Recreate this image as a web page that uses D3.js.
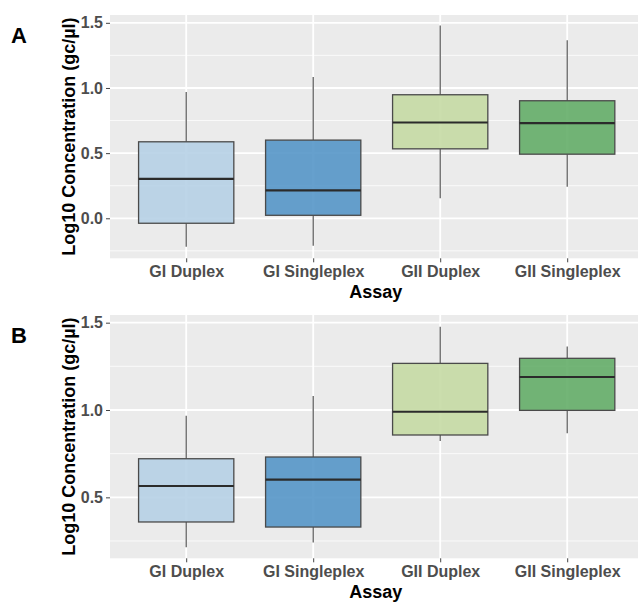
<!DOCTYPE html>
<html>
<head>
<meta charset="utf-8">
<script src="https://cdn.jsdelivr.net/npm/d3@7"></script>
<style>
  body { margin: 0; background: #fff; }
  svg { display: block; font-family: "Liberation Sans", Arial, sans-serif; }
</style>
</head>
<body>
<svg id="chart" width="638" height="602"></svg>
<script>
(function () {
    'use strict';

    // categories and fills
    var assays = ['GI Duplex', 'GI Singleplex', 'GII Duplex', 'GII Singleplex'];
    var fills = ['#b6d0e6', '#5596c8', '#c5daa4', '#64ad68'];

    // panel A box stats (log10 gc/ul)
    var lowA = [-0.218, -0.211, 0.154, 0.243];
    var q1A = [-0.038, 0.023, 0.533, 0.492];
    var medA = [0.302, 0.215, 0.735, 0.731];
    var q3A = [0.587, 0.600, 0.948, 0.902];
    var highA = [0.969, 1.085, 1.479, 1.366];
    var ticksA = [0, 0.5, 1.0, 1.5];
    var minorA = [-0.25, 0.25, 0.75, 1.25];

    // panel B box stats
    var lowB = [0.214, 0.242, 0.822, 0.867];
    var q1B = [0.359, 0.330, 0.857, 0.998];
    var medB = [0.565, 0.601, 0.990, 1.189];
    var q3B = [0.721, 0.731, 1.267, 1.296];
    var highB = [0.967, 1.080, 1.477, 1.363];
    var ticksB = [0.5, 1.0, 1.5];
    var minorB = [0.25, 0.75, 1.25];

    var svg = d3.select('#chart');

    var plot = { left: 110, top: 15, height: 243.3, width: 533.4 };

    function rows(low, q1, med, q3, high) {
        return assays.map(function (a, i) {
            return { name: a, low: low[i], q1: q1[i], med: med[i], q3: q3[i], high: high[i], fill: fills[i] };
        });
    }

    function drawPanel(offsetY, letter, data, domain, ticks, minor) {
        var g = svg.append('g').attr('transform', 'translate(0,' + offsetY + ')');

        var x = d3.scalePoint()
            .domain(assays)
            .range([plot.left, plot.left + plot.width])
            .padding(0.6);
        var y = d3.scaleLinear()
            .domain(domain)
            .range([plot.top + plot.height, plot.top]);

        var boxW = x.step() * 0.75;

        g.append('rect')
            .attr('x', plot.left).attr('y', plot.top)
            .attr('width', plot.width).attr('height', plot.height)
            .attr('fill', '#ebebeb');

        // grid
        g.selectAll('.minor').data(minor).enter().append('line')
            .attr('x1', plot.left).attr('x2', plot.left + plot.width)
            .attr('y1', function (d) { return y(d); }).attr('y2', function (d) { return y(d); })
            .attr('stroke', '#fafafa').attr('stroke-width', 1);
        g.selectAll('.major').data(ticks).enter().append('line')
            .attr('x1', plot.left).attr('x2', plot.left + plot.width)
            .attr('y1', function (d) { return y(d); }).attr('y2', function (d) { return y(d); })
            .attr('stroke', '#fff').attr('stroke-width', 1.8);
        g.selectAll('.vgrid').data(assays).enter().append('line')
            .attr('x1', function (d) { return x(d); }).attr('x2', function (d) { return x(d); })
            .attr('y1', plot.top).attr('y2', plot.top + plot.height)
            .attr('stroke', '#fff').attr('stroke-width', 1.8);

        // boxes
        var box = g.selectAll('.box').data(data).enter().append('g');
        box.append('line')
            .attr('x1', function (d) { return x(d.name); }).attr('x2', function (d) { return x(d.name); })
            .attr('y1', function (d) { return y(d.high); }).attr('y2', function (d) { return y(d.q3); })
            .attr('stroke', '#555').attr('stroke-width', 1.2);
        box.append('line')
            .attr('x1', function (d) { return x(d.name); }).attr('x2', function (d) { return x(d.name); })
            .attr('y1', function (d) { return y(d.q1); }).attr('y2', function (d) { return y(d.low); })
            .attr('stroke', '#555').attr('stroke-width', 1.2);
        box.append('rect')
            .attr('x', function (d) { return x(d.name) - boxW / 2; })
            .attr('y', function (d) { return y(d.q3); })
            .attr('width', boxW)
            .attr('height', function (d) { return y(d.q1) - y(d.q3); })
            .attr('fill', function (d) { return d.fill; })
            .attr('fill-opacity', 0.9)
            .attr('stroke', '#4a4a4a').attr('stroke-width', 1.3);
        box.append('line')
            .attr('x1', function (d) { return x(d.name) - boxW / 2; })
            .attr('x2', function (d) { return x(d.name) + boxW / 2; })
            .attr('y1', function (d) { return y(d.med); }).attr('y2', function (d) { return y(d.med); })
            .attr('stroke', '#2b2b2b').attr('stroke-width', 2.2);

        // y axis
        var yAxis = g.append('g')
            .attr('transform', 'translate(' + plot.left + ',0)')
            .call(d3.axisLeft(y).tickValues(ticks).tickSize(4).tickPadding(3).tickFormat(d3.format('.1f')));
        yAxis.select('.domain').remove();
        yAxis.selectAll('line').attr('stroke', '#444');
        yAxis.selectAll('text')
            .attr('fill', '#4d4d4d').attr('font-size', 16).attr('font-weight', 'bold');

        // x axis
        var xAxis = g.append('g')
            .attr('transform', 'translate(0,' + (plot.top + plot.height) + ')')
            .call(d3.axisBottom(x).tickSize(4).tickPadding(3));
        xAxis.select('.domain').remove();
        xAxis.selectAll('line').attr('stroke', '#444');
        xAxis.selectAll('text')
            .attr('fill', '#4d4d4d').attr('font-size', 16).attr('font-weight', 'bold');

        g.append('text')
            .attr('x', plot.left + plot.width / 2 - 1).attr('y', 298)
            .attr('text-anchor', 'middle')
            .attr('font-size', 18).attr('font-weight', 'bold').attr('fill', '#000')
            .text('Assay');

        g.append('text')
            .attr('transform', 'translate(75,' + (plot.top + plot.height / 2) + ') rotate(-90)')
            .attr('text-anchor', 'middle')
            .attr('font-size', 18).attr('font-weight', 'bold').attr('fill', '#000')
            .text('Log10 Concentration (gc/µl)');

        g.append('text')
            .attr('x', 11).attr('y', 43)
            .attr('font-size', 22).attr('font-weight', 'bold').attr('fill', '#000')
            .text(letter);
    }

    drawPanel(0, 'A', rows(lowA, q1A, medA, q3A, highA), [-0.307, 1.56], ticksA, minorA);
    drawPanel(300, 'B', rows(lowB, q1B, medB, q3B, highB), [0.151, 1.544], ticksB, minorB);
}());
</script>
</body>
</html>
